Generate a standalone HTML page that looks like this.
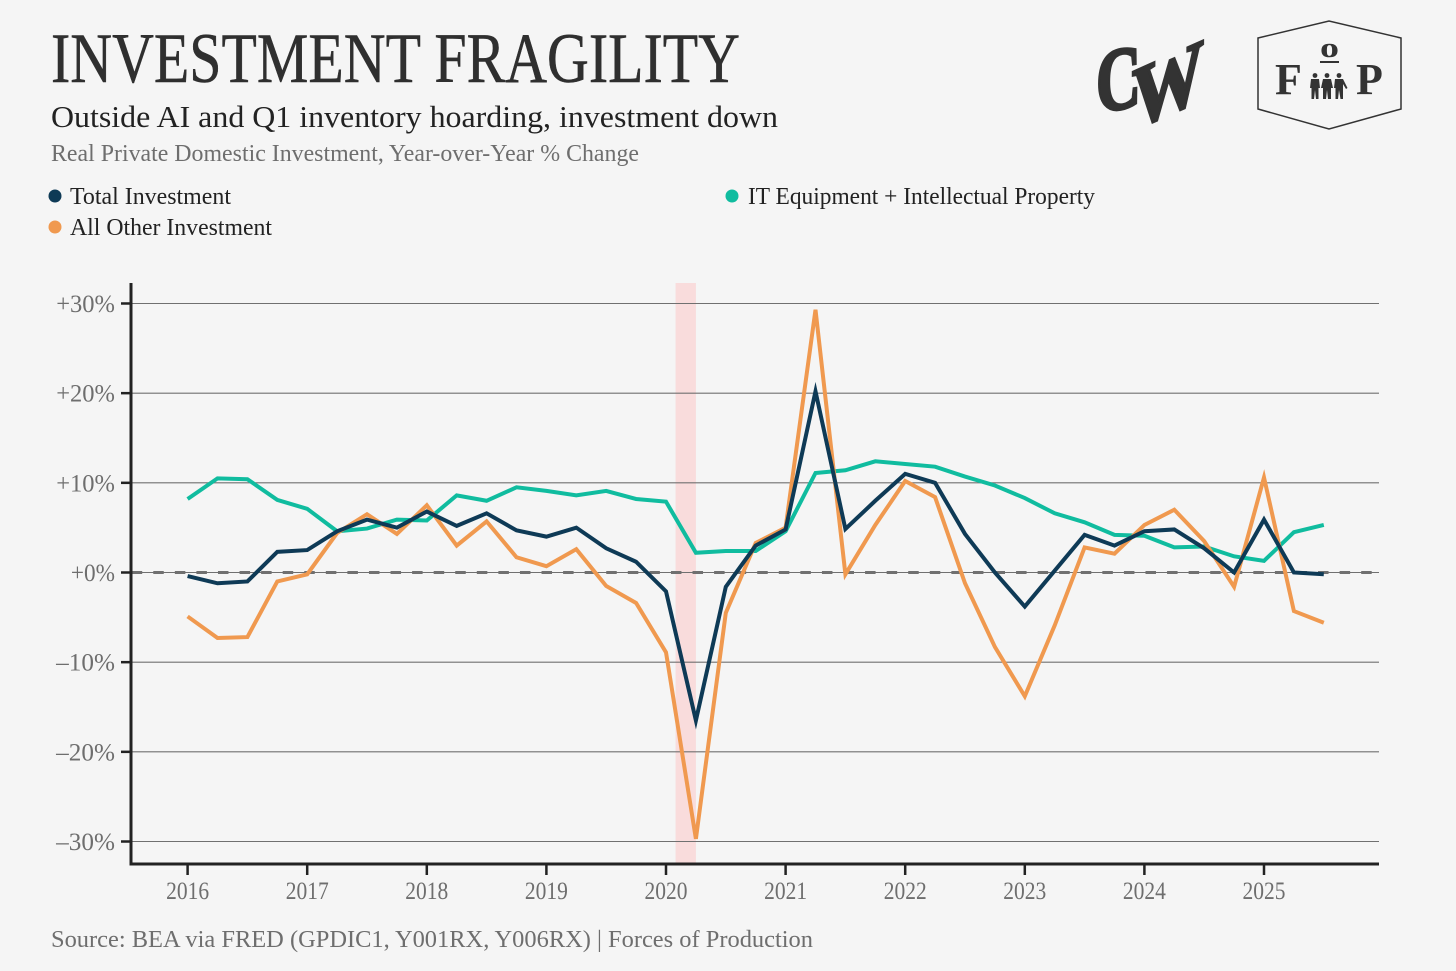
<!DOCTYPE html>
<html lang="en">
<head>
<meta charset="utf-8">
<title>Investment Fragility</title>
<style>
html,body{margin:0;padding:0;background:#f5f5f5;}
svg{display:block;font-family:"Liberation Serif",serif;}
</style>
</head>
<body>
<svg id="chart" xmlns="http://www.w3.org/2000/svg" width="1456" height="971" viewBox="0 0 1456 971">
  <rect x="0" y="0" width="1456" height="971" fill="#f5f5f5"/>
  <text x="51" y="82" font-size="71" fill="#2f2f2f" stroke="#2f2f2f" stroke-width="0.5" textLength="689" lengthAdjust="spacingAndGlyphs">INVESTMENT FRAGILITY</text>
  <text x="51" y="127" font-size="31" fill="#222" textLength="727" lengthAdjust="spacingAndGlyphs">Outside AI and Q1 inventory hoarding, investment down</text>
  <text x="51" y="161" font-size="24" fill="#6e6e6e" textLength="588" lengthAdjust="spacingAndGlyphs">Real Private Domestic Investment, Year-over-Year % Change</text>

  <g>
    <circle cx="55" cy="196" r="6.5" fill="#0e3a56"/>
    <text x="70" y="204" font-size="24" fill="#222" textLength="161" lengthAdjust="spacingAndGlyphs">Total Investment</text>
    <circle cx="732" cy="196" r="6.5" fill="#10bc9f"/>
    <text x="748" y="204" font-size="24" fill="#222" textLength="347" lengthAdjust="spacingAndGlyphs">IT Equipment + Intellectual Property</text>
    <circle cx="55" cy="227" r="6.5" fill="#f0994f"/>
    <text x="70" y="235" font-size="24" fill="#222" textLength="202" lengthAdjust="spacingAndGlyphs">All Other Investment</text>
  </g>

  <g fill="#333" stroke="#333" stroke-width="2.5" font-weight="bold">
    <text transform="translate(1096,113) skewY(-10) scale(0.8,1.15)" font-size="78">C</text>
    <text transform="translate(1132,130) skewY(-24) scale(1,1.22)" font-size="72">W</text>
  </g>

  <g fill="#333">
    <polygon points="1258,38 1329,21 1401,38 1401,109 1329,129 1258,109" fill="none" stroke="#333" stroke-width="1.5"/>
    <text x="1275" y="94" font-size="44" font-weight="bold">F</text>
    <text x="1320" y="57" font-size="28" font-weight="bold" textLength="19" lengthAdjust="spacingAndGlyphs">o</text>
    <rect x="1320" y="61" width="19" height="2"/>
    <text x="1356" y="94" font-size="44" font-weight="bold">P</text>
    <g>
      <circle cx="1315" cy="75.5" r="2.4"/>
      <polygon points="1311,79 1319,79 1320,88 1318.5,88 1318.5,99 1316,99 1315,90 1314,99 1311.5,99 1311.5,88 1310,88"/>
      <circle cx="1327" cy="75.5" r="2.4"/>
      <polygon points="1323,79 1331,79 1333,88 1331,88 1331,99 1328,99 1327,90 1326,99 1323,99 1323,88 1321,88"/>
      <circle cx="1339" cy="75.5" r="2.4"/>
      <polygon points="1335,79 1343,79 1347.5,88 1346,89 1343,84 1343,99 1340.5,99 1339,90 1338,99 1335.5,99 1335.5,88 1334,88"/>
    </g>
  </g>

  <g id="plot"></g>

  <text x="51" y="947" font-size="24" fill="#6e6e6e" textLength="762" lengthAdjust="spacingAndGlyphs">Source: BEA via FRED (GPDIC1, Y001RX, Y006RX) | Forces of Production</text>
</svg>
<script>
const yTicks = [30, 20, 10, 0, -10, -20, -30];
const yTickLabels = ["+30%", "+20%", "+10%", "+0%", "–10%", "–20%", "–30%"];
const xTicks = [2016, 2017, 2018, 2019, 2020, 2021, 2022, 2023, 2024, 2025];
const xTickLabels = ["2016", "2017", "2018", "2019", "2020", "2021", "2022", "2023", "2024", "2025"];
const quarters = [
  2016, 2016.25, 2016.5, 2016.75, 2017, 2017.25, 2017.5, 2017.75,
  2018, 2018.25, 2018.5, 2018.75, 2019, 2019.25, 2019.5, 2019.75,
  2020, 2020.25, 2020.5, 2020.75, 2021, 2021.25, 2021.5, 2021.75,
  2022, 2022.25, 2022.5, 2022.75, 2023, 2023.25, 2023.5, 2023.75,
  2024, 2024.25, 2024.5, 2024.75, 2025, 2025.25, 2025.5
];
const itInvestment = [
  8.2, 10.5, 10.4, 8.1, 7.1, 4.6, 4.9, 5.9,
  5.8, 8.6, 8.0, 9.5, 9.1, 8.6, 9.1, 8.2,
  7.9, 2.2, 2.4, 2.4, 4.6, 11.1, 11.4, 12.4,
  12.1, 11.8, 10.7, 9.7, 8.3, 6.6, 5.6, 4.2,
  4.1, 2.8, 2.9, 1.8, 1.3, 4.5, 5.3
];
const otherInvestment = [
  -4.9, -7.3, -7.2, -1.0, -0.2, 4.4, 6.5, 4.3,
  7.5, 3.0, 5.7, 1.7, 0.7, 2.6, -1.5, -3.4,
  -8.9, -29.7, -4.5, 3.3, 5.0, 29.3, -0.2, 5.3,
  10.2, 8.4, -1.2, -8.3, -13.8, -5.9, 2.8, 2.1,
  5.3, 7.0, 3.5, -1.6, 10.6, -4.3, -5.6
];
const totalInvestment = [
  -0.4, -1.2, -1.0, 2.3, 2.5, 4.6, 5.9, 5.0,
  6.8, 5.2, 6.6, 4.7, 4.0, 5.0, 2.7, 1.2,
  -2.1, -16.5, -1.6, 3.0, 4.8, 20.2, 4.85, 8.0,
  11.0, 10.0, 4.3, 0.0, -3.8, 0.2, 4.2, 3.0,
  4.6, 4.8, 2.7, 0.0, 5.9, 0.0, -0.2
];
const recessionStart = 2020.08;
const recessionEnd = 2020.25;

const SVG_NS = "http://www.w3.org/2000/svg";
const plot = document.getElementById("plot");
const left = 131, right = 1379, top_ = 283, bottom = 864;
function xScale(v) { return 187.6 + (v - 2016) * 119.6; }
function yScale(v) { return 572.5 - v * 8.967; }
function make(tag, attrs) {
  const el = document.createElementNS(SVG_NS, tag);
  for (const k in attrs) el.setAttribute(k, attrs[k]);
  plot.appendChild(el);
  return el;
}

const band = make("rect", {
  x: xScale(recessionStart), y: top_,
  width: xScale(recessionEnd) - xScale(recessionStart), height: bottom - top_,
  fill: "#f9dcdc"
});



yTicks.forEach(function (t, i) {
  const y = yScale(t);
  const grid = make("line", { x1: left, x2: right, y1: y, y2: y, stroke: "#707070", "stroke-width": 1.1 });
  
  
  const tick = make("line", { x1: 121, x2: left, y1: y, y2: y, stroke: "#222", "stroke-width": 2.5 });
  
  
  const label = make("text", {
    x: 115, y: y + 8.5, "font-size": 25, fill: "#6e6e6e", "text-anchor": "end",
    textLength: yTickLabels[i].length * 14.7, lengthAdjust: "spacingAndGlyphs"
  });
  label.textContent = yTickLabels[i];
  
  
});

const zero = make("line", {
  x1: left + 0.7, x2: right, y1: yScale(0), y2: yScale(0),
  stroke: "#707070", "stroke-width": 3, "stroke-dasharray": "10.5 11.07"
});



function drawSeries(values, color) {
  const pts = values.map(function (v, i) { return xScale(quarters[i]) + "," + yScale(v); }).join(" ");
  return make("polyline", {
    points: pts, fill: "none", stroke: color, "stroke-width": 4,
    "stroke-linejoin": "miter", "stroke-miterlimit": 5
  });
}
const itLine = drawSeries(itInvestment, "#10bc9f");


const otherLine = drawSeries(otherInvestment, "#f0994f");


const totalLine = drawSeries(totalInvestment, "#0e3a56");



xTicks.forEach(function (t, i) {
  const x = xScale(t);
  const tick = make("line", { x1: x, x2: x, y1: bottom, y2: 875, stroke: "#222", "stroke-width": 2.5 });
  
  
  const label = make("text", {
    x: x, y: 899, "font-size": 25, fill: "#6e6e6e", "text-anchor": "middle",
    textLength: 43, lengthAdjust: "spacingAndGlyphs"
  });
  label.textContent = xTickLabels[i];
  
  
});

const yAxis = make("line", { x1: left, x2: left, y1: top_, y2: bottom + 1.5, stroke: "#222", "stroke-width": 3 });


const xAxis = make("line", { x1: left, x2: right, y1: bottom, y2: bottom, stroke: "#222", "stroke-width": 3 });


</script>
</body>
</html>
